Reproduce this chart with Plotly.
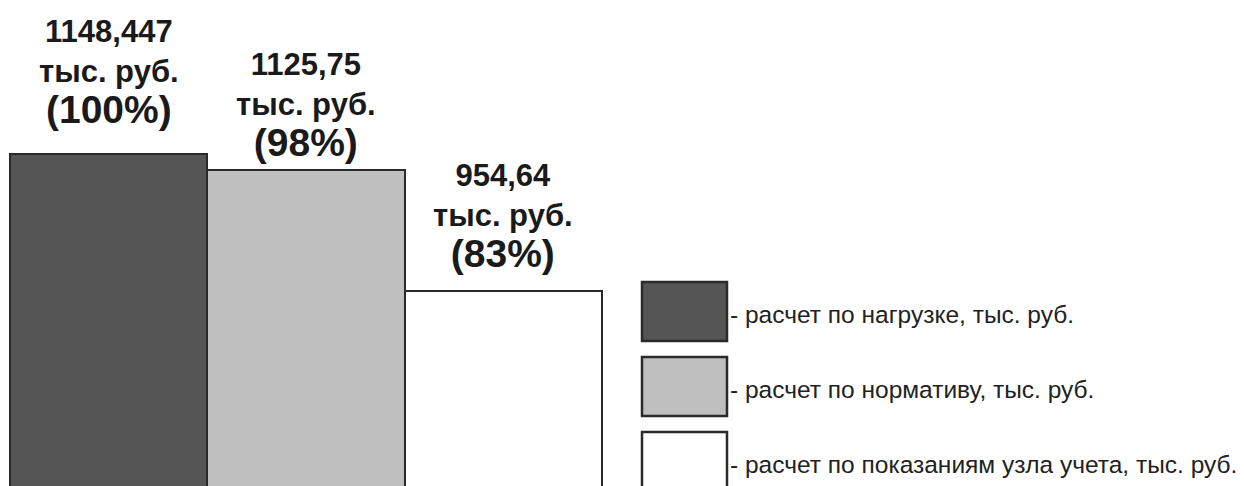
import plotly.graph_objects as go

categories = ["расчет по нагрузке", "расчет по нормативу", "расчет по показаниям узла учета"]
values = [1148.447, 1125.75, 954.64]
value_labels = ["1148,447", "1125,75", "954,64"]
percents = ["(100%)", "(98%)", "(83%)"]
legend_texts = [
    "- расчет по нагрузке, тыс. руб.",
    "- расчет по нормативу, тыс. руб.",
    "- расчет по показаниям узла учета, тыс. руб.",
]
colors = ["#555555", "#bfbfbf", "#ffffff"]

W, H = 1244, 486
FONT = "Liberation Sans, Arial, sans-serif"
EDGE = "#2a2a2a"

fig = go.Figure()
fig.add_trace(go.Bar(
    x=categories, y=values,
    marker=dict(color=colors, line=dict(color=EDGE, width=2)),
    width=1.0, showlegend=False, hoverinfo="skip",
))

# bar value labels
label_shift = [21, 4, 14]
for c, v, vl, p, s in zip(categories, values, value_labels, percents, label_shift):
    fig.add_annotation(
        x=c, y=v, xref="x", yref="y", yanchor="bottom", xanchor="center",
        yshift=s, showarrow=False, align="center",
        text=f"<b>{vl}</b><br><b>тыс. руб.</b><br><b><span style='font-size:39px'>{p}</span></b>",
        font=dict(family=FONT, size=31, color="#1a1a1a"),
    )

# custom legend (swatches + labels)
sq_top = [282, 357, 432]
sq_h = 59
for col, t, top in zip(colors, legend_texts, sq_top):
    fig.add_shape(
        type="rect", xref="paper", yref="paper",
        x0=642 / W, x1=727 / W, y0=1 - (top + sq_h) / H, y1=1 - top / H,
        fillcolor=col, line=dict(color=EDGE, width=2.5),
    )
    fig.add_annotation(
        x=728 / W, y=1 - (top + sq_h / 2 + 3) / H, xref="paper", yref="paper",
        xanchor="left", yanchor="middle", showarrow=False, text=t,
        font=dict(family=FONT, size=24.5, color="#222222"),
    )

fig.update_layout(
    width=W, height=H,
    margin=dict(l=0, r=0, t=0, b=0),
    paper_bgcolor="white", plot_bgcolor="white",
    bargap=0,
    xaxis=dict(visible=False, range=[-0.5507, 5.754], type="category"),
    yaxis=dict(visible=False, range=[678.7, 1365.5]),
)

fig.write_html("out.html")
